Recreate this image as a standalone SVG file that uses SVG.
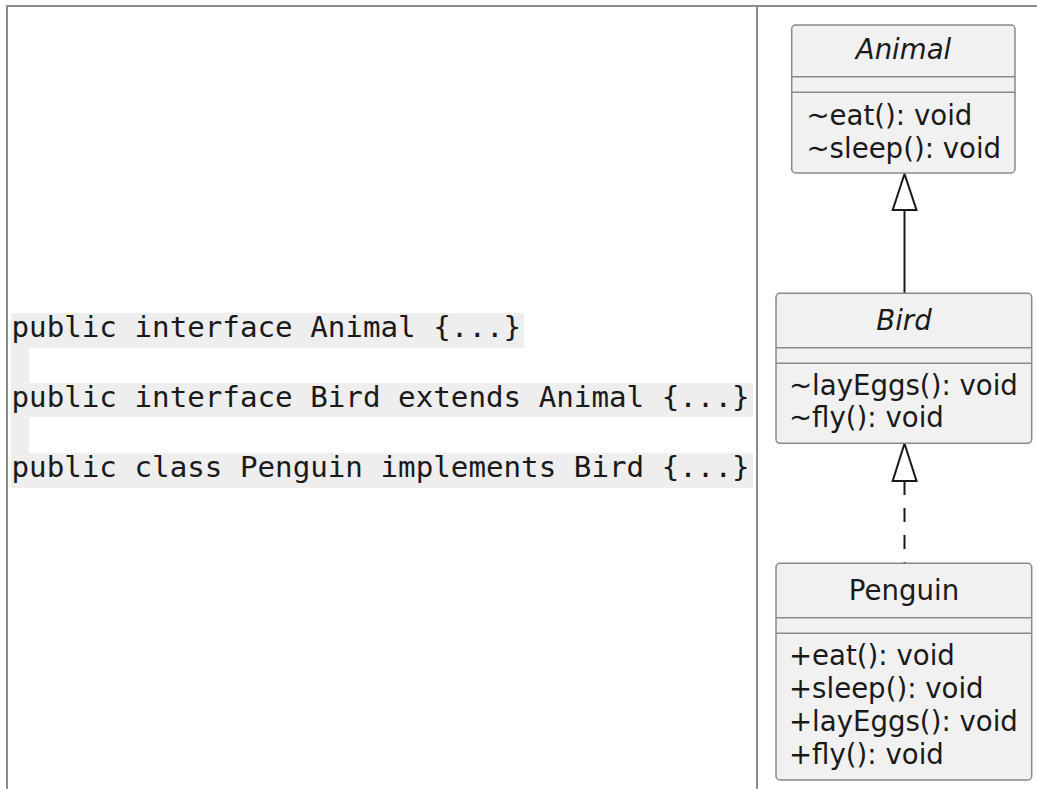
<svg xmlns="http://www.w3.org/2000/svg" width="1037" height="789" viewBox="0 0 1037 789">
<style>
.frame{stroke:#8c8c8c;stroke-width:2;fill:none}
.hl{fill:#eeeeee}
.code{font-family:"DejaVu Sans Mono",monospace;font-size:29.2px;fill:#1a1a1a}
.box{fill:#f1f1f1;stroke:#8a8a8a;stroke-width:1.5}
.sep{stroke:#8a8a8a;stroke-width:1.5}
.title{font-family:"DejaVu Sans",sans-serif;font-size:27.6px;fill:#1a1a1a;text-anchor:middle}
.it{font-style:italic}
.mem{font-family:"DejaVu Sans",sans-serif;font-size:27.6px;fill:#1a1a1a}
.edge{stroke:#181818;stroke-width:2;fill:none}
.head{fill:#ffffff;stroke:#181818;stroke-width:2}
</style>
<rect width="1037" height="789" fill="#ffffff"/>
<g id="frame">
<line class="frame" x1="6" y1="6" x2="1037" y2="6"/>
<line class="frame" x1="7" y1="6" x2="7" y2="789"/>
<line class="frame" x1="757" y1="6" x2="757" y2="789"/>
</g>
<g id="code">
<rect class="hl" x="11" y="313" width="513" height="35"/>
<rect class="hl" x="11" y="348" width="18" height="35"/>
<rect class="hl" x="11" y="383" width="742" height="34"/>
<rect class="hl" x="11" y="417" width="18" height="36"/>
<rect class="hl" x="11" y="453" width="742" height="35"/>
<text class="code" x="11.5" y="337.3">public interface Animal {...}</text>
<text class="code" x="11.5" y="407.3">public interface Bird extends Animal {...}</text>
<text class="code" x="11.5" y="477.3">public class Penguin implements Bird {...}</text>
</g>
<g id="connectors">
<line class="edge" x1="904.5" y1="210" x2="904.5" y2="293"/>
<polygon class="head" points="904.5,174 892.7,210 916.5,210"/>
<line class="edge" x1="904.5" y1="481" x2="904.5" y2="563" stroke-dasharray="14,13"/>
<polygon class="head" points="904.5,443.5 892.7,481 916.5,481"/>
</g>
<g id="Animal">
<rect class="box" x="791.7" y="25" width="223.3" height="148" rx="4"/>
<line class="sep" x1="791.7" y1="76.7" x2="1015" y2="76.7"/>
<line class="sep" x1="791.7" y1="92.3" x2="1015" y2="92.3"/>
<text class="title it" x="903.5" y="59">Animal</text>
<text class="mem" x="806.5" y="125">~eat(): void</text>
<text class="mem" x="806.5" y="158">~sleep(): void</text>
</g>
<g id="Bird">
<rect class="box" x="776" y="293.3" width="255.7" height="150" rx="4"/>
<line class="sep" x1="776" y1="347.7" x2="1031.7" y2="347.7"/>
<line class="sep" x1="776" y1="363.3" x2="1031.7" y2="363.3"/>
<text class="title it" x="904" y="330">Bird</text>
<text class="mem" x="789" y="395">~layEggs(): void</text>
<text class="mem" x="789" y="427">~fly(): void</text>
</g>
<g id="Penguin">
<rect class="box" x="776" y="563.3" width="255.7" height="216.7" rx="4"/>
<line class="sep" x1="776" y1="617.7" x2="1031.7" y2="617.7"/>
<line class="sep" x1="776" y1="633.3" x2="1031.7" y2="633.3"/>
<text class="title" x="904" y="600">Penguin</text>
<text class="mem" x="789" y="665">+eat(): void</text>
<text class="mem" x="789" y="698">+sleep(): void</text>
<text class="mem" x="789" y="731">+layEggs(): void</text>
<text class="mem" x="789" y="763.5">+fly(): void</text>
</g>
</svg>
